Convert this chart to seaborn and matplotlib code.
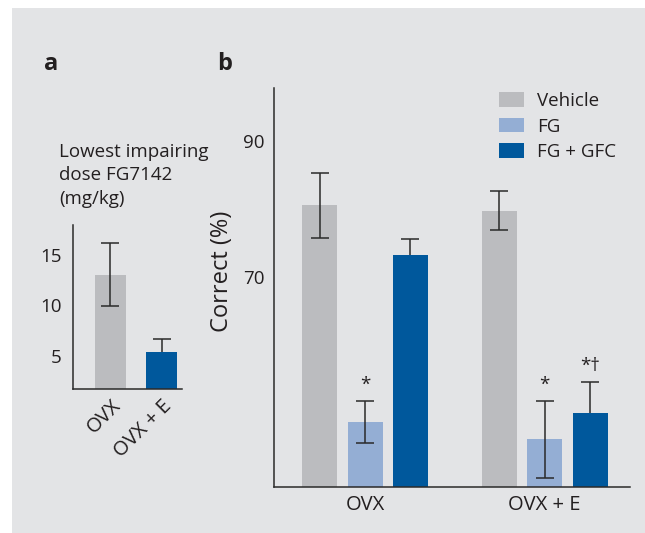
import matplotlib
matplotlib.use("Agg")
import matplotlib.pyplot as plt
from matplotlib.patches import Rectangle
import seaborn as sns
import pandas as pd

sns.set_theme(style="white")
plt.rcParams["font.family"] = ["Open Sans", "DejaVu Sans"]

# Panel a: lowest impairing dose of FG7142
dose_groups = ["OVX", "OVX + E"]
dose_values = [13.0, 5.4]
dose_err = [3.1, 1.3]
dose_colors = ["#bbbcbf", "#00589c"]

# Panel b: percent correct by group and treatment
groups = ["OVX", "OVX + E"]
treatments = ["Vehicle", "FG", "FG + GFC"]
vehicle_vals = [80.5, 79.7]
fg_vals = [48.6, 46.0]
fggfc_vals = [73.2, 49.9]
vehicle_err = [4.8, 2.9]
fg_err = [3.1, 5.7]
fggfc_err = [2.3, 4.6]
sig_marks = {("FG", "OVX"): "*", ("FG", "OVX + E"): "*", ("FG + GFC", "OVX + E"): "*\u2020"}
treat_colors = ["#bbbcbf", "#94aed4", "#00589c"]

ink = "#231f20"
bg = "#e3e4e6"

fig = plt.figure(figsize=(6.45, 5.33), dpi=100, facecolor="white")
fig.patches.append(Rectangle((12 / 645, 0), 1, 1 - 8 / 533, transform=fig.transFigure,
                             facecolor=bg, edgecolor="none", zorder=-10))

fs = 13.5
xfs = 14.5

# ---------- panel a ----------
axa = fig.add_axes([72.7 / 645, 1 - 389 / 533, 109.3 / 645, 164 / 533])
axa.set_facecolor("none")
dfa = pd.DataFrame({"group": dose_groups, "dose": dose_values})
sns.barplot(data=dfa, x="group", y="dose", hue="group", palette=dose_colors,
            width=0.6, legend=False, ax=axa, saturation=1, linewidth=0, edgecolor="none")
for bar, err, col in zip(axa.patches, dose_err, dose_colors):
    cx = bar.get_x() + bar.get_width() / 2
    top = bar.get_height()
    axa.errorbar(cx, top, yerr=err, fmt="none", ecolor="#2a2a2a", elinewidth=1.1,
                 capsize=6.5, capthick=1.1, zorder=bar.get_zorder() + (1 if col != "#00589c" else -1))
axa.set_xlim(-0.74, 1.40)
axa.set_ylim(1.8, 17.9)
axa.set_yticks([5, 10, 15])
axa.set_xlabel("")
axa.set_ylabel("")
axa.tick_params(axis="both", length=0, labelsize=fs, labelcolor=ink)
axa.tick_params(axis="x", labelsize=xfs, pad=5)
axa.tick_params(axis="y", pad=8)
plt.setp(axa.get_xticklabels(), rotation=45, ha="right", rotation_mode="anchor")
for side in ["top", "right"]:
    axa.spines[side].set_visible(False)
for side in ["left", "bottom"]:
    axa.spines[side].set_color("#2a2a2a")
    axa.spines[side].set_linewidth(1.1)
fig.text(59 / 645, 1 - 143 / 533, "Lowest impairing\ndose FG7142\n(mg/kg)",
         ha="left", va="top", fontsize=fs, color=ink, linespacing=1.38)

# ---------- panel b ----------
axb = fig.add_axes([274 / 645, 1 - 487 / 533, 356 / 645, 399 / 533])
axb.set_facecolor("none")
dfb = pd.DataFrame({
    "group": groups * 3,
    "treatment": [t for t in treatments for _ in groups],
    "correct": vehicle_vals + fg_vals + fggfc_vals,
    "err": vehicle_err + fg_err + fggfc_err,
})
sns.barplot(data=dfb, x="group", y="correct", hue="treatment", hue_order=treatments,
            palette=treat_colors, width=0.76, gap=0.23, saturation=1, ax=axb,
            linewidth=0, edgecolor="none")
for treat, cont in zip(treatments, axb.containers):
    sub = dfb[dfb["treatment"] == treat]
    for bar, (_, row) in zip(cont.patches, sub.iterrows()):
        cx = bar.get_x() + bar.get_width() / 2
        top = bar.get_y() + bar.get_height()
        behind = treat == "FG + GFC"
        axb.errorbar(cx, top, yerr=row["err"], fmt="none", ecolor="#2a2a2a",
                     elinewidth=1.1, capsize=6.5, capthick=1.1,
                     zorder=bar.get_zorder() + (-1 if behind else 1))
        mark = sig_marks.get((treat, row["group"]))
        if mark:
            axb.text(cx, top + row["err"] + 1.6, mark, ha="center", va="baseline",
                     fontsize=fs, color=ink)
axb.set_xlim(-0.507, 1.476)
axb.set_ylim(39.0, 97.8)
axb.set_yticks([70, 90])
axb.set_xlabel("")
axb.set_ylabel("Correct (%)", fontsize=17, color=ink)
axb.yaxis.set_label_coords(-0.112, 0.54)
axb.tick_params(axis="both", length=0, labelsize=fs, labelcolor=ink)
axb.tick_params(axis="x", labelsize=xfs, pad=6)
axb.tick_params(axis="y", pad=7)
for side in ["top", "right"]:
    axb.spines[side].set_visible(False)
for side in ["left", "bottom"]:
    axb.spines[side].set_color("#2a2a2a")
    axb.spines[side].set_linewidth(1.1)
leg = axb.legend(loc="upper left", bbox_to_anchor=((499 - 274) / 356, (487 - 92) / 399),
                 frameon=False, fontsize=fs, handlelength=1.35, handleheight=0.85,
                 handletextpad=0.7, labelspacing=0.4, borderpad=0, borderaxespad=0)
for t in leg.get_texts():
    t.set_color(ink)
for h in leg.legend_handles:
    h.set_edgecolor("none")
    h.set_linewidth(0)

fig.text(44 / 645, 1 - 70 / 533, "a", fontsize=17, fontweight="bold", color=ink,
         ha="left", va="baseline")
fig.text(217 / 645, 1 - 70 / 533, "b", fontsize=17, fontweight="bold", color=ink,
         ha="left", va="baseline")

fig.savefig("out.png", dpi=100, facecolor=fig.get_facecolor())
